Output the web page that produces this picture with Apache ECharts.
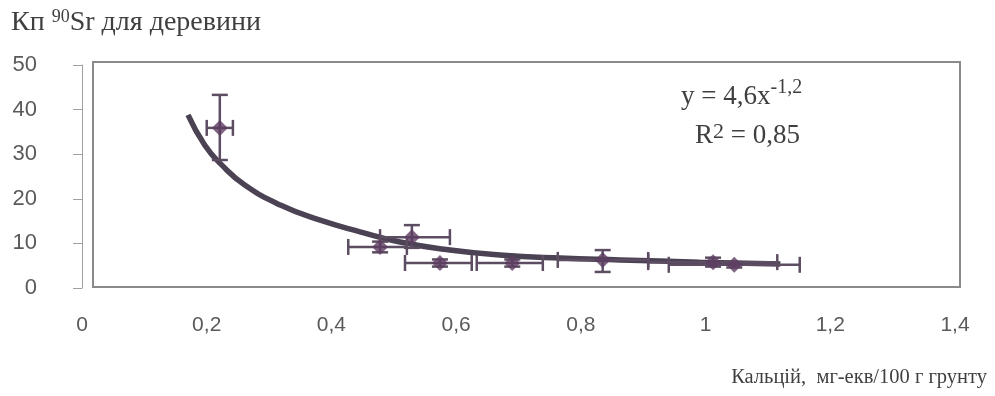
<!DOCTYPE html>
<html><head><meta charset="utf-8">
<script src="https://cdn.jsdelivr.net/npm/echarts@6/dist/echarts.min.js"></script>
<style>html,body{margin:0;padding:0;background:#fff}#c{width:995px;height:396px}</style>
</head><body><div id="c"></div>
<script>
// Points (x = calcium, y = Kp), with error-bar limits
var pointX = [0.221, 0.478, 0.529, 0.574, 0.690, 0.835, 1.012, 1.046];
var pointY = [35.9, 9.2, 11.4, 5.6, 5.6, 6.3, 5.8, 5.2];
var xLow   = [0.200, 0.427, 0.478, 0.518, 0.633, 0.763, 0.908, 0.941];
var xHigh  = [0.242, 0.521, 0.590, 0.625, 0.739, 0.908, 1.115, 1.151];
var yLow   = [28.7, 8.0, 9.0, 4.8, 4.8, 3.6, 4.8, 4.6];
var yHigh  = [43.3, 10.4, 14.1, 6.4, 6.4, 8.5, 6.8, 5.8];
// Trend curve
var curveX = [0.17, 0.197, 0.224, 0.261, 0.318, 0.382, 0.446, 0.51, 0.59, 0.67, 0.767, 0.863, 0.99, 1.12];
var curveY = [38.8, 32.0, 27.6, 23.1, 18.6, 15.2, 12.6, 10.3, 8.5, 7.4, 6.7, 6.3, 5.8, 5.4];
var xTicks = ['0', '0,2', '0,4', '0,6', '0,8', '1', '1,2', '1,4'];
var yTicks = ['0', '10', '20', '30', '40', '50'];

var pts = pointX.map(function(x, i){ return [x, pointY[i]]; });
var errs = pointX.map(function(x, i){ return [x, pointY[i], xLow[i], xHigh[i], yLow[i], yHigh[i]]; });
var curve = curveX.map(function(x, i){ return [x, curveY[i]]; });

var serif = "'Liberation Serif', 'Times New Roman', serif";
var sans = "'Liberation Sans', Arial, sans-serif";

var chart = echarts.init(document.getElementById('c'));
chart.setOption({
  backgroundColor: '#ffffff',
  animation: false,
  title: [
    { text: 'Кп {s|90}Sr для деревини', left: 6, top: 3,
      textStyle: { fontFamily: serif, fontSize: 28, fontWeight: 'normal', color: '#3f3f3f',
        rich: { s: { fontFamily: serif, fontSize: 18, color: '#3f3f3f', padding: [0,0,12,0] } } } },
    { text: 'y = 4,6x{s|-1,2}', left: 676, top: 73,
      textStyle: { fontFamily: serif, fontSize: 27, fontWeight: 'normal', color: '#3f3f3f',
        rich: { s: { fontFamily: serif, fontSize: 20, color: '#3f3f3f', padding: [0,0,18,0] } } } },
    { text: 'R{s|2} = 0,85', left: 690, top: 116,
      textStyle: { fontFamily: serif, fontSize: 27, fontWeight: 'normal', color: '#3f3f3f',
        rich: { s: { fontFamily: serif, fontSize: 22, color: '#3f3f3f', padding: [0,0,8,0] } } } },
    { text: 'Кальцій,  мг-екв/100 г грунту', right: 3, top: 362,
      textStyle: { fontFamily: serif, fontSize: 20.5, fontWeight: 'normal', color: '#3f3f3f' } }
  ],
  grid: [
    { left: 82, right: 40, top: 65, bottom: 108, show: false },
    { left: 93, right: 35, top: 62, bottom: 109, show: true, borderColor: '#8a8a8a', borderWidth: 2, backgroundColor: 'transparent' }
  ],
  xAxis: [
    { type: 'value', min: 0, max: 1.4, interval: 0.2, gridIndex: 0,
      axisLine: { show: false }, axisTick: { show: false }, splitLine: { show: false },
      axisLabel: { margin: 27, fontFamily: sans, fontSize: 21, color: '#5a5a5a',
        formatter: function(v){ return xTicks[Math.round(v / 0.2)]; } } },
    { type: 'value', gridIndex: 1, show: false, min: 0, max: 1 }
  ],
  yAxis: [
    { type: 'value', min: 0, max: 50, interval: 10, gridIndex: 0,
      axisLine: { show: true, lineStyle: { color: '#a0a0a0', width: 1 } },
      axisTick: { show: true, length: 9, lineStyle: { color: '#a0a0a0' } },
      splitLine: { show: false },
      axisLabel: { margin: 45, fontFamily: sans, fontSize: 22, color: '#5a5a5a', padding: [0,0,8,0],
        formatter: function(v){ return yTicks[Math.round(v / 10)]; } } },
    { type: 'value', gridIndex: 1, show: false, min: 0, max: 1 }
  ],
  series: [
    { type: 'line', data: curve, smooth: true, symbol: 'none', xAxisIndex: 0, yAxisIndex: 0,
      lineStyle: { color: '#4b4253', width: 5.5 }, z: 2 },
    { type: 'custom', data: errs, xAxisIndex: 0, yAxisIndex: 0, z: 3,
      renderItem: function(params, api){
        var x = api.value(0), y = api.value(1);
        var l = api.coord([api.value(2), y]), h = api.coord([api.value(3), y]);
        var b = api.coord([x, api.value(4)]), t = api.coord([x, api.value(5)]);
        var cap = 8, st = { stroke: '#5d4d62', lineWidth: 2.5 };
        function ln(x1, y1, x2, y2){ return { type: 'line', shape: { x1: x1, y1: y1, x2: x2, y2: y2 }, style: st }; }
        return { type: 'group', children: [
          ln(l[0], l[1], h[0], h[1]),
          ln(l[0], l[1] - cap, l[0], l[1] + cap),
          ln(h[0], h[1] - cap, h[0], h[1] + cap),
          ln(b[0], b[1], t[0], t[1]),
          ln(b[0] - cap, b[1], b[0] + cap, b[1]),
          ln(t[0] - cap, t[1], t[0] + cap, t[1])
        ] };
      } },
    { type: 'scatter', data: pts, symbol: 'diamond', symbolSize: 16, xAxisIndex: 0, yAxisIndex: 0, z: 4,
      itemStyle: { color: '#5e3d62' } }
  ]
});
</script></body></html>
